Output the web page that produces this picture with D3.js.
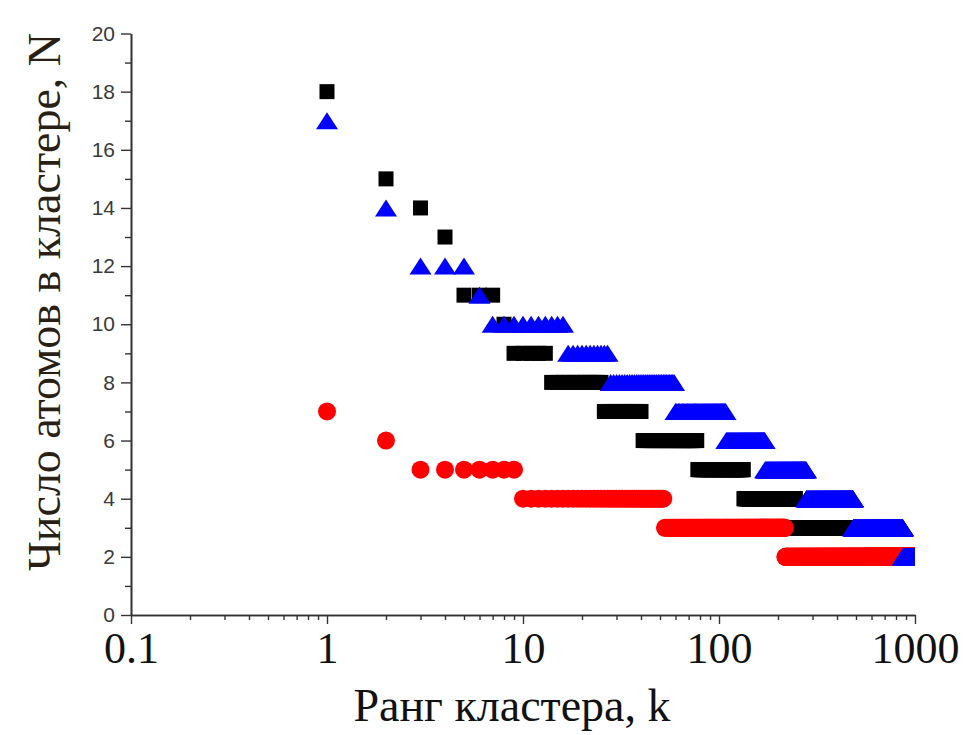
<!DOCTYPE html>
<html>
<head>
<meta charset="utf-8">
<script src="https://cdn.jsdelivr.net/npm/d3@7"></script>
<style>
  html, body { margin: 0; padding: 0; background: #fff; }
  svg { display: block; }
</style>
</head>
<body>
<svg id="chart" width="968" height="735"></svg>
<script>
// ---- Data (cluster size N and number of clusters of that size, in rank order) ----
const blackSizes  = [18, 15, 14, 13, 11, 10, 9, 8, 7, 6, 5, 4, 3, 2];
const blackCounts = [ 1,  1,  1,  1,  3,  1, 5, 12, 15, 37, 56, 112, 280, 475];

const blueSizes   = [17, 14, 12, 11, 10, 9, 8, 7, 6, 5, 4, 3, 2];
const blueCounts  = [ 1,  1,  3,  1, 10, 11, 32, 49, 63, 107, 205, 385, 132];

const redSizes    = [7, 6, 5, 4, 3, 2];
const redCounts   = [1, 1, 7, 43, 165, 783];

const xTickLabels = [0.1, 1, 10, 100, 1000];
const yTickLabels = [0, 2, 4, 6, 8, 10, 12, 14, 16, 18, 20];

const xTitle = "Ранг кластера, k";
const yTitle = "Число атомов в кластере, N";

// expand size/count lists into (rank, N) points
function rankPoints(sizes, counts) {
  const pts = [];
  let k = 1;
  sizes.forEach((n, i) => {
    for (let j = 0; j < counts[i]; j++) { pts.push({k: k, n: n}); k++; }
  });
  return pts;
}

const svg = d3.select("#chart");
const x = d3.scaleLog().domain([0.1, 1000]).range([131, 915]);
const y = d3.scaleLinear().domain([0, 20]).range([615, 33.5]);

svg.append("defs").append("clipPath").attr("id", "clip")
  .append("rect").attr("x", 0).attr("y", 0).attr("width", 915).attr("height", 735);

const plot = svg.append("g").attr("clip-path", "url(#clip)");

// black squares
plot.append("g").selectAll("rect")
  .data(rankPoints(blackSizes, blackCounts)).join("rect")
  .attr("x", d => x(d.k) - 7.5).attr("y", d => y(d.n) - 7.5)
  .attr("width", 15).attr("height", 15).attr("fill", "#000");

// red circles
plot.append("g").selectAll("circle")
  .data(rankPoints(redSizes, redCounts)).join("circle")
  .attr("cx", d => x(d.k)).attr("cy", d => y(d.n)).attr("r", 9)
  .attr("fill", "#ff0000");

// blue triangles
const tw = 11, th = 8.5;
plot.append("g").selectAll("path")
  .data(rankPoints(blueSizes, blueCounts)).join("path")
  .attr("d", d => {
    const cx = x(d.k), cy = y(d.n);
    return `M${cx},${cy - th}L${cx + tw},${cy + th}L${cx - tw},${cy + th}Z`;
  })
  .attr("fill", "#0000ff");

// ---- axes ----
const axisColor = "#333";
function styleAxis(g) {
  g.selectAll("path.domain").attr("stroke", axisColor).attr("stroke-width", 1.6);
  g.selectAll(".tick line").attr("stroke", axisColor).attr("stroke-width", 1.4);
}

// y axis
const yMinor = svg.append("g").attr("transform", "translate(131,0)")
  .call(d3.axisLeft(y).tickValues(d3.range(1, 20, 2)).tickSize(6).tickSizeOuter(0).tickFormat(""));
styleAxis(yMinor);
const yAxis = svg.append("g").attr("transform", "translate(131,0)")
  .call(d3.axisLeft(y).tickValues(yTickLabels).tickSize(10).tickPadding(6).tickSizeOuter(0).tickFormat(d3.format("d")));
styleAxis(yAxis);
yAxis.selectAll("text").attr("font-family", "Liberation Sans, Arial, sans-serif")
  .attr("font-size", 21).attr("fill", "#3a3a3a");

// x axis
const minorX = [];
[0.1, 1, 10, 100].forEach(dec => { for (let m = 2; m <= 9; m++) minorX.push(dec * m); });
const xMinor = svg.append("g").attr("transform", "translate(0,615)")
  .call(d3.axisBottom(x).tickValues(minorX).tickSize(5).tickSizeOuter(0).tickFormat(""));
styleAxis(xMinor);
const xAxis = svg.append("g").attr("transform", "translate(0,615)")
  .call(d3.axisBottom(x).tickValues(xTickLabels).tickSize(9).tickPadding(8).tickSizeOuter(0)
        .tickFormat(d => String(d)));
styleAxis(xAxis);
xAxis.selectAll("text").attr("font-family", "Liberation Serif, Times New Roman, serif")
  .attr("font-size", 44).attr("fill", "#111");

// titles
svg.append("text")
  .attr("x", 512).attr("y", 721)
  .attr("text-anchor", "middle")
  .attr("font-family", "Liberation Serif, Times New Roman, serif")
  .attr("font-size", 46).attr("fill", "#111")
  .text(xTitle);

svg.append("text")
  .attr("transform", "translate(60,302) rotate(-90)")
  .attr("text-anchor", "middle")
  .attr("font-family", "Liberation Serif, Times New Roman, serif")
  .attr("font-size", 46).attr("fill", "#2a1f14")
  .text(yTitle);
</script>
</body>
</html>
